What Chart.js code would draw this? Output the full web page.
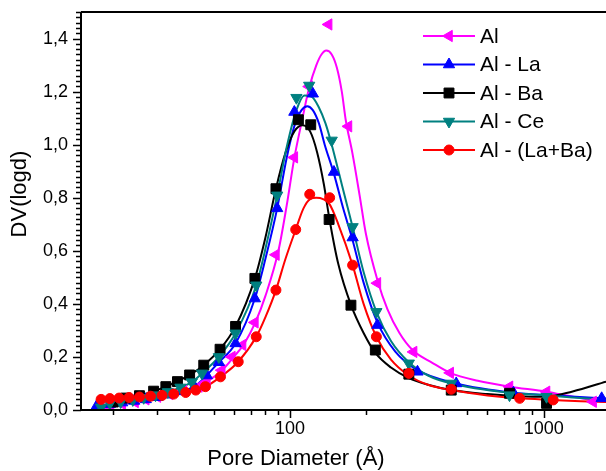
<!DOCTYPE html>
<html>
<head>
<meta charset="utf-8">
<script src="https://cdn.jsdelivr.net/npm/chart.js"></script>
<style>
  html, body { margin: 0; padding: 0; background: #fff; }
  canvas { display: block; }
</style>
</head>
<body>
<canvas id="myChart" width="606" height="471"></canvas>
<script>
// series names, in legend order
const seriesNames = ['Al', 'Al - La', 'Al - Ba', 'Al - Ce', 'Al - (La+Ba)'];

// measured points (markers)
const alX = [18.4, 19.6, 21.8, 24.5, 27, 30, 33.5, 38, 43.7, 47, 53.8, 59, 65, 72.7, 88, 104, 119, 142, 170, 221, 307, 428, 733, 1026, 1566];
const alY = [0.005, 0.012, 0.023, 0.03, 0.04, 0.05, 0.06, 0.072, 0.088, 0.107, 0.15, 0.2, 0.245, 0.33, 0.585, 0.952, 1.219, 1.453, 1.069, 0.478, 0.219, 0.14, 0.088, 0.069, 0.031];

const laX = [17.3, 19.5, 21.8, 24.3, 27, 30, 33.5, 37.5, 42, 47, 52.4, 61, 72.7, 89, 104, 123, 149, 176.5, 221, 318, 452, 760, 1692];
const laY = [0.015, 0.022, 0.028, 0.034, 0.04, 0.048, 0.058, 0.07, 0.088, 0.13, 0.18, 0.251, 0.42, 0.76, 1.123, 1.192, 0.897, 0.65, 0.32, 0.144, 0.10, 0.065, 0.044];

const baX = [20.1, 22.5, 25.5, 29, 32.4, 36, 40.2, 45.7, 53, 61, 72.7, 88, 107.9, 120.7, 142.6, 173.8, 216.9, 294, 432, 733, 1026];
const baY = [0.03, 0.045, 0.054, 0.071, 0.088, 0.107, 0.132, 0.169, 0.229, 0.315, 0.496, 0.834, 1.094, 1.075, 0.718, 0.395, 0.226, 0.135, 0.075, 0.063, 0.025];

const ceX = [18, 19.5, 21.5, 24, 26.5, 29.5, 33, 37, 41, 45, 52.4, 61, 73.6, 89, 106, 119, 146, 176.5, 219, 294, 432, 733, 1026];
const ceY = [0.01, 0.025, 0.03, 0.038, 0.046, 0.056, 0.068, 0.085, 0.105, 0.138, 0.2, 0.289, 0.47, 0.809, 1.177, 1.223, 1.016, 0.69, 0.37, 0.176, 0.10, 0.056, 0.05];

const lbX = [18, 19.5, 21.2, 23.2, 25.5, 28.2, 31.3, 34.8, 38.8, 42.5, 46.4, 53.2, 62.5, 73.6, 88, 105.3, 119.6, 143.3, 176.5, 219, 294, 432, 804, 1090];
const lbY = [0.04, 0.043, 0.045, 0.047, 0.049, 0.052, 0.055, 0.06, 0.066, 0.075, 0.088, 0.125, 0.182, 0.276, 0.452, 0.68, 0.813, 0.80, 0.546, 0.276, 0.138, 0.078, 0.044, 0.038];

// fitted curves
const alFitX = [18.4, 21.8, 27, 33.5, 40, 47, 54, 60, 66, 73, 80, 90, 97, 104, 112, 119, 127, 133, 139, 146, 153, 160, 166, 176, 188, 199, 221, 242, 270, 304, 365, 428, 550, 733, 1026, 1300, 1566, 1760];
const alFitY = [0.005, 0.023, 0.04, 0.06, 0.078, 0.107, 0.15, 0.2, 0.25, 0.33, 0.43, 0.6, 0.77, 0.95, 1.1, 1.215, 1.30, 1.34, 1.355, 1.34, 1.29, 1.2, 1.09, 0.97, 0.81, 0.665, 0.49, 0.38, 0.29, 0.226, 0.177, 0.14, 0.11, 0.088, 0.069, 0.05, 0.037, 0.03];

const laFitX = [17.3, 21.8, 27, 33.5, 42, 52.4, 61, 72.7, 80, 89, 97, 104, 111, 117, 123, 130, 137, 149, 162, 176.5, 195, 221, 260, 318, 452, 760, 1100, 1692, 1760];
const laFitY = [0.015, 0.028, 0.04, 0.058, 0.088, 0.18, 0.251, 0.42, 0.57, 0.76, 0.95, 1.07, 1.13, 1.145, 1.13, 1.08, 1.0, 0.89, 0.76, 0.64, 0.48, 0.33, 0.22, 0.15, 0.10, 0.065, 0.055, 0.044, 0.043];

const baFitX = [20.1, 25.5, 32.4, 40.2, 45.7, 53, 61, 72.7, 80, 88, 96, 104, 112, 120, 128, 136, 143, 155, 174, 195, 217, 250, 294, 350, 432, 600, 800, 1026, 1300, 1760];
const baFitY = [0.03, 0.054, 0.088, 0.132, 0.169, 0.229, 0.315, 0.496, 0.65, 0.834, 0.97, 1.05, 1.073, 1.05, 0.97, 0.85, 0.72, 0.55, 0.395, 0.29, 0.215, 0.16, 0.12, 0.095, 0.075, 0.06, 0.052, 0.05, 0.07, 0.107];

const ceFitX = [18, 21.5, 26.5, 33, 41, 45, 52.4, 61, 73.6, 81, 89, 97, 106, 114, 122, 130, 138, 146, 160, 176.5, 195, 219, 250, 294, 350, 432, 733, 1026, 1400, 1760];
const ceFitY = [0.01, 0.03, 0.046, 0.068, 0.105, 0.138, 0.2, 0.289, 0.47, 0.63, 0.81, 0.99, 1.13, 1.185, 1.18, 1.14, 1.08, 1.0, 0.85, 0.69, 0.52, 0.37, 0.26, 0.18, 0.13, 0.10, 0.065, 0.055, 0.045, 0.04];

const lbFitX = [18, 23.2, 28.2, 34.8, 40, 46.4, 53.2, 62.5, 73.6, 80, 88, 96, 105.3, 113, 120, 127, 135, 143.3, 155, 176.5, 195, 219, 250, 294, 350, 432, 600, 804, 1090, 1400, 1760];
const lbFitY = [0.04, 0.047, 0.052, 0.06, 0.068, 0.088, 0.125, 0.182, 0.276, 0.35, 0.452, 0.57, 0.68, 0.76, 0.795, 0.80, 0.795, 0.775, 0.70, 0.546, 0.40, 0.276, 0.19, 0.13, 0.095, 0.075, 0.055, 0.044, 0.038, 0.033, 0.03];

// axis ticks
const xTickVals = [100, 1000];
const xMinorVals = [20, 30, 40, 50, 60, 70, 80, 90, 200, 300, 400, 500, 600, 700, 800, 900];
const yTickVals = [0, 0.2, 0.4, 0.6, 0.8, 1.0, 1.2, 1.4];

const colors = ['#ff00ff', '#0000ff', '#000000', '#008080', '#ff0000'];
const styles = [
  { pointStyle: 'triangle', rotation: -90, radius: 6.5 },
  { pointStyle: 'triangle', rotation: 0, radius: 6.5 },
  { pointStyle: 'rect', rotation: 0, radius: 7 },
  { pointStyle: 'triangle', rotation: 180, radius: 6.5 },
  { pointStyle: 'circle', rotation: 0, radius: 5 }
];

const markerSets = [[alX, alY], [laX, laY], [baX, baY], [ceX, ceY], [lbX, lbY]];
const fitSets = [[alFitX, alFitY], [laFitX, laFitY], [baFitX, baFitY], [ceFitX, ceFitY], [lbFitX, lbFitY]];

const toPts = (xs, ys) => xs.map((x, i) => ({ x: x, y: ys[i] }));

const datasets = [];
seriesNames.forEach((name, i) => {
  datasets.push({
    label: name + ' fit',
    data: toPts(fitSets[i][0], fitSets[i][1]),
    showLine: true,
    borderColor: colors[i],
    borderWidth: 2,
    pointRadius: 0,
    cubicInterpolationMode: 'monotone',
    order: 10 - i
  });
  datasets.push({
    label: name,
    data: toPts(markerSets[i][0], markerSets[i][1]),
    showLine: false,
    backgroundColor: colors[i],
    borderColor: colors[i],
    borderWidth: 1,
    pointStyle: styles[i].pointStyle,
    rotation: styles[i].rotation,
    pointRadius: styles[i].radius,
    order: 5 - i
  });
});

// axis lines, frame, major and minor ticks
const axesDeco = {
  id: 'axesDeco',
  afterDatasetsDraw(chart) {
    const { ctx, chartArea: a, scales: { x, y } } = chart;
    ctx.save();
    ctx.strokeStyle = '#000';
    ctx.lineWidth = 2;
    ctx.beginPath();
    ctx.moveTo(a.left, a.top); ctx.lineTo(a.right, a.top);
    ctx.moveTo(a.left, a.top); ctx.lineTo(a.left, a.bottom); ctx.lineTo(a.right, a.bottom);
    ctx.stroke();

    ctx.lineWidth = 1.5;
    ctx.beginPath();
    for (let i = 0; i <= 75; i++) {
      const v = i * 0.02;
      const py = Math.round(y.getPixelForValue(v)) + 0.5;
      const len = i % 10 === 0 ? 8 : 5;
      ctx.moveTo(a.left, py); ctx.lineTo(a.left - len, py);
    }
    xTickVals.forEach(v => {
      const px = Math.round(x.getPixelForValue(v)) + 0.5;
      ctx.moveTo(px, a.bottom); ctx.lineTo(px, a.bottom + 8);
    });
    xMinorVals.forEach(v => {
      const px = Math.round(x.getPixelForValue(v)) + 0.5;
      ctx.moveTo(px, a.bottom); ctx.lineTo(px, a.bottom + 5);
    });
    ctx.stroke();

    // axis titles
    ctx.fillStyle = '#000';
    ctx.font = '22px "Liberation Sans", Arial, sans-serif';
    ctx.textAlign = 'center';
    ctx.textBaseline = 'middle';
    ctx.fillText('Pore Diameter (Å)', 296, 459);
    ctx.translate(20, 194);
    ctx.rotate(-Math.PI / 2);
    ctx.fillText('DV(logd)', 0, 0);
    ctx.restore();
  }
};

// legend: line with marker, then label
const lineLegend = {
  id: 'lineLegend',
  afterDraw(chart) {
    const { ctx } = chart;
    ctx.save();
    ctx.font = '21px "Liberation Sans", Arial, sans-serif';
    ctx.textBaseline = 'middle';
    ctx.textAlign = 'left';
    seriesNames.forEach((name, i) => {
      const yy = 36 + i * 28.5;
      ctx.strokeStyle = colors[i];
      ctx.fillStyle = colors[i];
      ctx.lineWidth = 2;
      ctx.beginPath();
      ctx.moveTo(423, yy); ctx.lineTo(475, yy);
      ctx.stroke();
      ctx.lineWidth = 1;
      Chart.helpers.drawPoint(ctx, {
        pointStyle: styles[i].pointStyle,
        rotation: styles[i].rotation,
        radius: styles[i].radius,
        borderWidth: 1
      }, 449, yy);
      ctx.fillStyle = '#000';
      ctx.fillText(name, 480, yy + 1);
    });
    ctx.restore();
  }
};

Chart.defaults.font.family = '"Liberation Sans", Arial, sans-serif';
Chart.defaults.color = '#000';

const ctx = document.getElementById('myChart').getContext('2d');
new Chart(ctx, {
  type: 'scatter',
  data: { datasets: datasets },
  options: {
    responsive: false,
    animation: false,
    devicePixelRatio: 1,
    layout: { autoPadding: false, padding: { top: 12, right: 0, left: 0, bottom: 0 } },
    plugins: {
      legend: { display: false },
      tooltip: { enabled: false }
    },
    scales: {
      x: {
        type: 'logarithmic',
        min: 15,
        max: 1760,
        grid: { display: false, drawTicks: false },
        border: { display: false },
        afterBuildTicks: s => { s.ticks = xTickVals.map(v => ({ value: v })); },
        afterFit: s => { s.height = 61; s.paddingLeft = 0; s.paddingRight = 0; },
        ticks: {
          autoSkip: false,
          maxRotation: 0,
          padding: 8,
          font: { size: 18 },
          callback: v => String(v)
        }
      },
      y: {
        min: 0,
        max: 1.5,
        grid: { display: false, drawTicks: false },
        border: { display: false },
        afterBuildTicks: s => { s.ticks = yTickVals.map(v => ({ value: v })); },
        afterFit: s => { s.width = 81; s.paddingTop = 0; s.paddingBottom = 0; },
        ticks: {
          padding: 13,
          font: { size: 18 },
          callback: v => v.toFixed(1).replace('.', ',')
        }
      }
    }
  },
  plugins: [axesDeco, lineLegend]
});
</script>
</body>
</html>
